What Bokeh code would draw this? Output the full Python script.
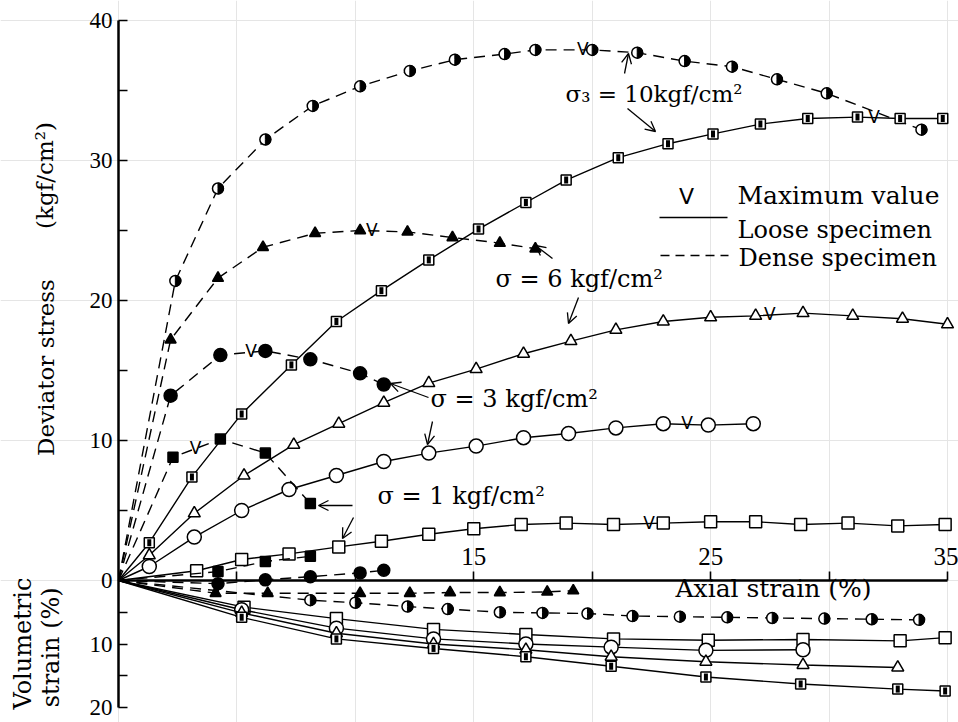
import numpy as np
from bokeh.plotting import figure
from bokeh.models import Range1d, LinearAxis, FixedTicker, Label, Arrow, OpenHead
from bokeh.core.properties import value
from bokeh.embed import file_html
from bokeh.resources import INLINE

# ---------------- data ----------------
# Deviator stress (kgf/cm2) vs axial strain (%)
dense10_x = [2.4, 4.2, 6.2, 8.2, 10.2, 12.3, 14.2, 16.3, 17.6, 20.0, 21.9, 23.9, 25.9, 27.8, 29.9, 33.9]
dense10_y = [21.4, 28.0, 31.5, 33.9, 35.3, 36.4, 37.2, 37.6, 37.9, 37.9, 37.7, 37.1, 36.7, 35.8, 34.8, 32.2]
loose10_x = [1.3, 3.1, 5.2, 7.3, 9.2, 11.1, 13.1, 15.2, 17.2, 18.9, 21.1, 23.2, 25.1, 27.1, 29.1, 31.2, 33.0, 34.8]
loose10_y = [2.7, 7.4, 11.9, 15.4, 18.5, 20.7, 22.9, 25.1, 27.0, 28.6, 30.2, 31.2, 31.9, 32.6, 33.0, 33.1, 33.0, 33.0]
dense6_x = [2.2, 4.2, 6.1, 8.3, 10.2, 12.2, 14.1, 16.1, 17.6]
dense6_y = [17.2, 21.6, 23.8, 24.8, 25.0, 24.9, 24.5, 24.1, 23.7]
loose6_x = [1.3, 3.2, 5.3, 7.4, 9.3, 11.2, 13.1, 15.1, 17.1, 19.1, 21.0, 23.0, 25.0, 26.9, 28.9, 31.0, 33.1, 35.0]
loose6_y = [1.8, 4.8, 7.5, 9.7, 11.2, 12.7, 14.1, 15.1, 16.2, 17.1, 17.9, 18.5, 18.8, 18.9, 19.1, 18.9, 18.7, 18.3]
dense3_x = [2.2, 4.3, 6.2, 8.1, 10.2, 11.2]
dense3_y = [13.2, 16.1, 16.4, 15.8, 14.8, 14.0]
loose3_x = [1.3, 3.2, 5.2, 7.2, 9.2, 11.2, 13.1, 15.1, 17.1, 19.0, 21.0, 23.0, 24.9, 26.8]
loose3_y = [1.0, 3.1, 5.0, 6.5, 7.5, 8.5, 9.1, 9.6, 10.2, 10.5, 10.9, 11.2, 11.1, 11.2]
dense1_x = [2.3, 4.3, 6.2, 8.1]
dense1_y = [8.8, 10.1, 9.1, 5.5]
loose1_x = [3.3, 5.2, 7.2, 9.3, 11.1, 13.1, 15.0, 17.0, 18.9, 20.9, 23.0, 25.0, 26.9, 28.8, 30.8, 32.9, 34.9]
loose1_y = [0.7, 1.5, 1.9, 2.4, 2.8, 3.3, 3.7, 4.0, 4.1, 4.0, 4.1, 4.2, 4.2, 4.0, 4.1, 3.9, 4.0]

# strain at which the maximum value is marked (V)
vmax_dense10, vmax_loose10 = 19.6, 31.9
vmax_dense6, vmax_loose6 = 10.7, 27.5
vmax_dense3, vmax_loose3 = 5.6, 24.0
vmax_dense1, vmax_loose1 = 3.25, 22.4

# Volumetric strain (%) (compression positive, plotted downward)
vl1_x = [5.3, 9.2, 13.3, 17.2, 20.9, 24.9, 28.9, 33.0, 34.9]
vl1_v = [4.2, 6.0, 7.7, 8.5, 9.2, 9.4, 9.3, 9.5, 9.0]
vl3_x = [5.2, 9.2, 13.3, 17.2, 20.8, 24.8, 28.9]
vl3_v = [4.6, 7.5, 9.2, 10.0, 10.5, 11.0, 10.9]
vl6_x = [5.2, 9.2, 13.3, 17.2, 20.8, 24.8, 28.9, 32.9]
vl6_v = [5.1, 8.3, 10.0, 10.9, 12.0, 12.8, 13.3, 13.7]
vl10_x = [5.2, 9.2, 13.3, 17.2, 20.8, 24.8, 28.8, 32.9, 34.9]
vl10_v = [5.8, 9.2, 10.7, 12.0, 13.5, 15.2, 16.3, 17.1, 17.4]
vd1_x = [4.2, 6.2, 8.1]
vd1_v = [-1.4, -3.0, -3.8]
vd3_x = [4.2, 6.2, 8.1, 10.2, 11.2]
vd3_v = [0.5, -0.1, -0.6, -1.2, -1.6]
vd6_x = [4.1, 6.3, 10.2, 12.3, 14.0, 16.1, 18.1, 19.2]
vd6_v = [2.0, 2.0, 2.0, 2.0, 1.9, 1.9, 1.8, 1.6]
vd10_x = [8.1, 10.0, 12.2, 13.9, 16.1, 17.9, 19.8, 21.7, 23.7, 25.7, 27.6, 29.8, 31.8, 33.8]
vd10_v = [3.1, 3.5, 4.1, 4.5, 5.0, 5.1, 5.2, 5.6, 5.7, 5.8, 5.9, 6.0, 6.1, 6.2]

x_ticks = [5, 10, 15, 20, 25, 30, 35]
x_labelled = [15, 25, 35]
dev_ticks = [0, 10, 20, 30, 40]
dev_minor = [5, 15, 25, 35]
vol_ticks = [10, 20]
vol_minor = [5, 15]

# ---------------- layout ----------------
W, H = 958, 722
FX0, FX35 = 118, 947     # canvas px of strain 0 and 35
FY0 = 580                # canvas px of the zero line
DEV_PX = 14.0            # px per kgf/cm2
VOL_PX = 6.35            # px per % volumetric strain
XS = (FX35 - FX0) / 35.0
V2D = VOL_PX / DEV_PX    # volumetric units -> deviator units (downward)


def dx(px):
    return (px - FX0) / XS


def dy(py):
    return (FY0 - py) / DEV_PX


p = figure(width=W, height=H,
           x_range=Range1d(dx(0), dx(W)),
           y_range=Range1d(dy(H), dy(0)),
           output_backend="svg", toolbar_location=None,
           x_axis_location=None, y_axis_location=None,
           min_border=0, min_border_left=0, min_border_right=0,
           min_border_top=0, min_border_bottom=0,
           outline_line_color=None, background_fill_color="white",
           border_fill_color="white")
p.extra_y_ranges = {"vol": Range1d((H - FY0) / VOL_PX, -FY0 / VOL_PX)}

axis_style = dict(axis_line_width=2.5, axis_line_color="black",
                  major_tick_line_width=1.6, minor_tick_line_width=1.6,
                  major_tick_line_color="black", minor_tick_line_color="black",
                  major_label_text_font="Liberation Serif",
                  major_label_text_color="black")

# one left axis: deviator stress above zero, volumetric strain below zero
left_ticks = [-v * V2D for v in vol_ticks] + dev_ticks
left_minor = [-v * V2D for v in vol_minor] + dev_minor
left_over = {-v * V2D: str(v) for v in vol_ticks}
y_axis = LinearAxis(fixed_location=0,
                    ticker=FixedTicker(ticks=left_ticks, minor_ticks=left_minor),
                    bounds=(-max(vol_ticks) * V2D, max(dev_ticks)),
                    major_label_overrides=left_over,
                    major_tick_in=9, major_tick_out=0,
                    minor_tick_in=9, minor_tick_out=0,
                    major_label_standoff=6, major_label_text_font_size="23px",
                    **axis_style)
p.add_layout(y_axis, "left")

x_axis = LinearAxis(fixed_location=0, ticker=FixedTicker(ticks=x_ticks, minor_ticks=[]),
                    bounds=(0, 35), major_tick_out=9, major_tick_in=0,
                    minor_tick_out=0, minor_tick_in=0, major_label_standoff=7,
                    major_label_overrides={t: "" for t in x_ticks if t not in x_labelled},
                    major_label_text_font_size="25px", **axis_style)
p.add_layout(x_axis, "above")

SOLID = dict(line_color="black", line_width=1.4)
DASH = dict(line_color="black", line_width=1.4, line_dash="11 7")


def series(xs, ys, dashed, marker, fill, size, rng="default", half=False, bar=False):
    lx = [0.0] + list(xs)
    ly = [0.0] + list(ys)
    style = DASH if dashed else SOLID
    p.line(lx, ly, y_range_name=rng, **style)
    p.scatter(xs, ys, marker=marker, size=size, fill_color=fill,
              line_color="black", line_width=1.5, y_range_name=rng)
    if half:
        p.wedge(xs, ys, radius=size / 2.0, radius_units="screen",
                start_angle=-np.pi / 2, end_angle=np.pi / 2,
                fill_color="black", line_color="black", y_range_name=rng)
    if bar:
        p.scatter(xs, ys, marker="dash", angle=np.pi / 2, size=size - 3,
                  line_color="black", line_width=4, y_range_name=rng)


# deviator curves
series(dense10_x, dense10_y, True, "circle", "white", 11, half=True)
series(loose10_x, loose10_y, False, "square", "white", 10, bar=True)
series(dense6_x, dense6_y, True, "triangle", "black", 11)
series(loose6_x, loose6_y, False, "triangle", "white", 12)
series(dense3_x, dense3_y, True, "circle", "black", 13)
series(loose3_x, loose3_y, False, "circle", "white", 14)
series(dense1_x, dense1_y, True, "square", "black", 10)
series(loose1_x, loose1_y, False, "square", "white", 12)

# volumetric curves
series(vl1_x, vl1_v, False, "square", "white", 12, rng="vol")
series(vl3_x, vl3_v, False, "circle", "white", 14, rng="vol")
series(vl6_x, vl6_v, False, "triangle", "white", 12, rng="vol")
series(vl10_x, vl10_v, False, "square", "white", 10, rng="vol", bar=True)
series(vd1_x, vd1_v, True, "square", "black", 10, rng="vol")
series(vd3_x, vd3_v, True, "circle", "black", 12, rng="vol")
series(vd6_x, vd6_v, True, "triangle", "black", 11, rng="vol")
series(vd10_x, vd10_v, True, "circle", "white", 11, rng="vol", half=True)

# maximum-value marks (V) placed on each curve
vx, vy = [], []
for xs, ys, xm in [(dense10_x, dense10_y, vmax_dense10), (loose10_x, loose10_y, vmax_loose10),
                   (dense6_x, dense6_y, vmax_dense6), (loose6_x, loose6_y, vmax_loose6),
                   (dense3_x, dense3_y, vmax_dense3), (loose3_x, loose3_y, vmax_loose3),
                   (dense1_x, dense1_y, vmax_dense1), (loose1_x, loose1_y, vmax_loose1)]:
    vx.append(xm)
    vy.append(float(np.interp(xm, [0.0] + xs, [0.0] + ys)))
p.text(vx, vy, text=["V"] * len(vx), text_font=value("DejaVu Sans"),
       text_font_size="17px", text_align="center", text_baseline="alphabetic",
       y_offset=-1, text_color="black")

# ---------------- text ----------------
SERIF = "DejaVu Serif"


def lab(text, px, py, size="24px", align="left", baseline="middle", angle=0.0, font=SERIF):
    p.add_layout(Label(x=dx(px), y=dy(py), text=text, text_font=font,
                       text_font_size=size, text_align=align, text_baseline=baseline,
                       angle=angle, text_color="black"))


lab("(kgf/cm²)", 44, 175, size="23px", align="center", angle=np.pi / 2)
lab("Deviator stress", 45, 367, size="23px", align="center", angle=np.pi / 2)
lab("Volumetric", 22, 643, size="24px", align="center", angle=np.pi / 2)
lab("strain  (%)", 50, 643, size="24px", align="center", angle=np.pi / 2)
lab("Axial strain   (%)", 675, 588, size="25px")
lab("σ₃ = 10kgf/cm²", 565, 93, size="23px")
lab("σ = 6 kgf/cm²", 495, 278)
lab("σ = 3 kgf/cm²", 430, 398)
lab("σ = 1 kgf/cm²", 377, 495)
lab("V", 686, 196, size="22px", align="center", font="DejaVu Sans")
lab("Maximum value", 737, 195, size="25px")
lab("Loose specimen", 737, 229)
lab("Dense specimen", 738, 257)


def arrow(x0, y0, x1, y1, head=True, dash="solid"):
    p.add_layout(Arrow(x_start=dx(x0), y_start=dy(y0), x_end=dx(x1), y_end=dy(y1),
                       end=OpenHead(size=10, line_width=1.3, line_color="black") if head else None,
                       line_width=1.3, line_color="black", line_dash=dash))


arrow(624, 73, 628, 53)
arrow(627, 108, 655, 131)
arrow(552, 258, 535, 245)
arrow(578, 297, 568, 323)
arrow(428, 397, 390, 383)
arrow(432, 421, 427, 444)
arrow(352, 505, 318, 505)
arrow(353, 517, 342, 538)
# legend line samples
arrow(659, 217, 727, 217, head=False)
arrow(660, 255, 728, 255, head=False, dash="9 6")

open("out.html", "w").write(file_html(p, INLINE))
